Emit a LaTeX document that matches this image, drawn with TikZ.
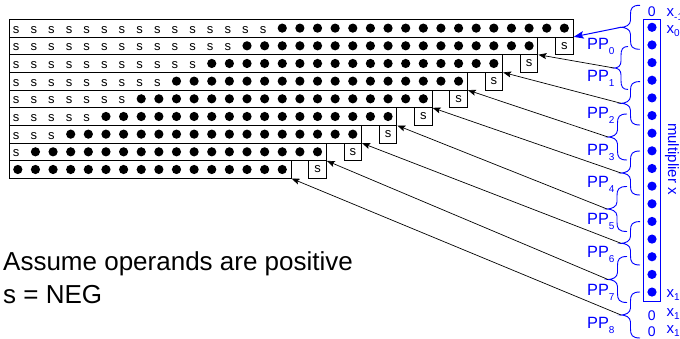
\documentclass[tikz,border=0pt]{standalone}
\usepackage{fontspec}
\setmainfont{Liberation Sans}
\usetikzlibrary{arrows.meta}
\definecolor{mblue}{RGB}{0,0,255}

\begin{document}
\begin{tikzpicture}[x=1pt,y=-1pt,
  rowbox/.style={draw, line width=0.9pt, inner sep=0pt, outer sep=0pt,
    anchor=north west, minimum height=17.67pt},
  sbox/.style={rowbox, minimum width=17.63pt, font=\fontsize{13}{13}\selectfont},
  sbit/.style={inner sep=0pt, anchor=base, font=\fontsize{13}{13}\selectfont},
  ppbrace/.style={draw=mblue, line width=0.9pt},
  pplabel/.style={text=mblue, anchor=base west, inner sep=0pt,
    font=\fontsize{16.3}{16.3}\selectfont},
  bitlab/.style={text=mblue, anchor=base west, inner sep=0pt,
    font=\fontsize{15}{15}\selectfont},
  zerolab/.style={text=mblue, anchor=base, inner sep=0pt,
    font=\fontsize{14}{14}\selectfont},
  arr/.style={-{Stealth[length=8pt,width=6pt,inset=1.5pt]}, line width=0.7pt,
    shorten >=0.5pt},
  barr/.style={-{Stealth[length=10pt,width=7.5pt,inset=2pt]}, draw=mblue,
    line width=1pt, shorten >=0.5pt},
  note/.style={anchor=base west, inner sep=0pt, font=\fontsize{26}{26}\selectfont}
]
\useasboundingbox (0,0) rectangle (680,339);

% partial product rows: sign bits, value bits and the trailing sign box
\foreach \i in {0,...,8}{
  \pgfmathsetmacro\rtop{19.3+17.67*\i}
  \pgfmathsetmacro\rmid{\rtop+8.835}
  \pgfmathsetmacro\rw{17.63*(32-2*\i)}
  \node[rowbox, minimum width=\rw pt] (row\i) at (9,\rtop) {};
  \ifnum\i>0
    \pgfmathsetmacro\sx{9+17.63*(33-2*\i)}
    \node[sbox] (sb\i) at (\sx,\rtop) {s};
  \fi
  \pgfmathtruncatemacro\ns{14-2*\i}
  \ifnum\ns>-1
    \foreach \k in {0,...,\ns}{
      \node[sbit] (s\i-\k) at ({9+17.63*(\k+0.5)-1.6},\rmid+5) {s};
    }
  \fi
  \pgfmathtruncatemacro\dfirst{max(0,15-2*\i)}
  \pgfmathtruncatemacro\dlast{31-2*\i}
  \foreach \k in {\dfirst,...,\dlast}{
    \fill ({9+17.63*(\k+0.5)},\rmid) circle (4.6);
  }
}

% multiplier column
\node[draw=mblue, line width=1pt, inner sep=0pt, outer sep=0pt, anchor=north west,
  minimum width=17.4pt, minimum height=282.4pt] (mcol) at (643.3,19.3) {};
\foreach \j in {0,...,15}{
  \fill[mblue] (652,27.3+17.65*\j) circle (4.6);
}
\node[zerolab] (zm1) at (651.7,16.7) {0};
\node[zerolab] (z16) at (651.7,320) {0};
\node[zerolab] (z17) at (651.7,336.6) {0};
\node[bitlab] (xm1) at (666.5,16.7) {x\raisebox{-3.5pt}{\fontsize{10}{10}\selectfont -1}};
\node[bitlab] (x0) at (666.5,33.3) {x\raisebox{-3.5pt}{\fontsize{10}{10}\selectfont 0}};
\node[bitlab] (x15) at (666.5,297.3) {x\raisebox{-3.5pt}{\fontsize{10}{10}\selectfont 15}};
\node[bitlab] (x16) at (666.5,316.3) {x\raisebox{-3.5pt}{\fontsize{10}{10}\selectfont 16}};
\node[bitlab] (x17) at (666.5,333) {x\raisebox{-3.5pt}{\fontsize{10}{10}\selectfont 17}};
\node[text=mblue, rotate=-90, inner sep=0pt, font=\fontsize{15}{15}\selectfont]
  (mlab) at (672,159) {multiplier x};

% Booth groups: brace, label and arrow to the row they select
\foreach \i/\ty/\tx/\ex/\hh/\lb in {
  0/27.3/621/640/22/50,
  1/68/614/628/21.5/82,
  2/103.3/621/640/21.7/118.3,
  3/137/608/627/23/156,
  4/173/621/640/22/188,
  5/209/607/627/22.5/225,
  6/243.3/621/640/21.7/258,
  7/279.5/608/627/23/295,
  8/315/621/640/23/328}{
  \pgfmathsetmacro\xm{(\ex+\tx)/2}
  \coordinate (tip\i) at (\tx,\ty);
  \draw[ppbrace] (\ex,\ty-\hh)
    .. controls (\xm+1.5,\ty-\hh) and (\xm,\ty-\hh+3) .. (\xm,\ty-\hh+9)
    -- (\xm,\ty-7)
    .. controls (\xm,\ty-2) and (\tx+4,\ty) .. (tip\i)
    .. controls (\tx+4,\ty) and (\xm,\ty+2) .. (\xm,\ty+7)
    -- (\xm,\ty+\hh-9)
    .. controls (\xm,\ty+\hh-3) and (\xm+1.5,\ty+\hh) .. (\ex,\ty+\hh);
  \node[pplabel] (pp\i) at (587,\lb) {PP\raisebox{-5pt}{\fontsize{10}{10}\selectfont\i}};
}
\draw[barr] (tip0) -- (row0.south east);
\foreach \i in {1,...,8}{
  \draw[arr] (tip\i) -- (row\i.south east);
}

% notes
\node[note] (n1) at (3,270) {Assume operands are positive};
\node[note] (n2) at (3,303.3) {s = NEG};
\end{tikzpicture}
\end{document}
